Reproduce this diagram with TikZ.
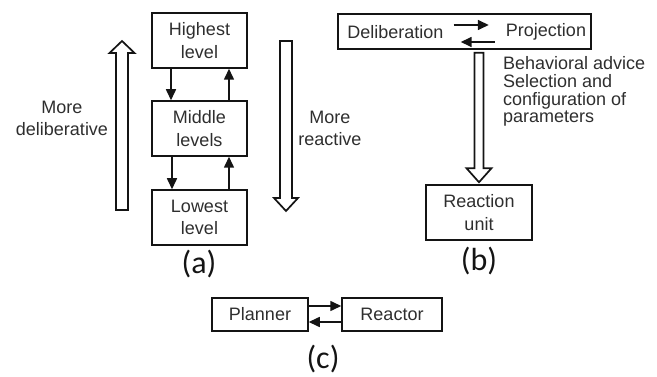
\documentclass[tikz,border=0pt]{standalone}
\usepackage{fontspec}
\setmainfont{Liberation Sans}
\newfontfamily\labfont{Carlito}
\usetikzlibrary{arrows.meta,calc}
\definecolor{txt}{HTML}{2E2E2E}
\definecolor{ln}{HTML}{141414}
\begin{document}
\begin{tikzpicture}[x=1pt,y=-1pt,
  box/.style={draw=ln, line width=1.5pt, inner sep=0pt, align=center,
    font=\fontsize{18}{22.5}\selectfont, text=txt},
  plain/.style={inner sep=0pt, align=center, font=\fontsize{18}{22}\selectfont, text=txt},
  arr/.style={draw=ln, line width=1.6pt, -{Triangle[length=11pt,width=10pt]}},
  hollow/.style={draw=ln, line width=1.7pt, fill=white, line join=miter},
  lab/.style={inner sep=0pt, font=\labfont\fontsize{32}{34}\selectfont, text=ln}]
\useasboundingbox (0,0) rectangle (657,377);
% (a)
\node[box, minimum width=95pt, minimum height=55pt] (high) at (199.5,40.5) {Highest\\level};
\node[box, minimum width=95pt, minimum height=55pt] (mid) at (199.5,128.5) {Middle\\levels};
\node[box, minimum width=95pt, minimum height=55pt] (low) at (199.5,217.5) {Lowest\\level};
\draw[arr] ($(high.south)+(-28.5,0)$) -- ($(mid.north)+(-28.5,0)$);
\draw[arr] ($(mid.north)+(29.5,0)$) -- ($(high.south)+(29.5,0)$);
\draw[arr] ($(mid.south)+(-27.5,0)$) -- ($(low.north)+(-27.5,0)$);
\draw[arr] ($(low.north)+(29.5,0)$) -- ($(mid.south)+(29.5,0)$);
\draw[hollow] (116,210) -- (116,53) -- (109.5,53) -- (122,41) -- (134.5,53) -- (128,53) -- (128,210) -- cycle;
\draw[hollow] (280,41) -- (292,41) -- (292,198) -- (298,198) -- (286,211) -- (274,198) -- (280,198) -- cycle;
\node[plain] (deltxt) at (62,118) {More\\deliberative};
\node[plain] (reatxt) at (330,128) {More\\reactive};
\node[lab] (la) at (199,264) {(a)};
% (b)
\node[box, minimum width=253pt, minimum height=35pt] (delib) at (464.5,31.5) {};
\node[plain] (dl) at (395.5,32) {Deliberation};
\node[plain] (pj) at (546,32) {Projection};
\draw[arr] ($(dl.east)+(10,-7)$) -- ($(pj.west)+(-17,-7)$);
\draw[arr] ($(pj.west)+(-11,10)$) -- ($(dl.east)+(17,10)$);
\node[box, minimum width=106pt, minimum height=55pt] (react) at (479,212.5) {Reaction\\unit};
\draw[hollow] let \p1=(react.north), \p2=(delib.south) in
  (\x1-4.5pt,\y2-3pt) -- (\x1+4.5pt,\y2-3pt) -- (\x1+4.5pt,\y1+16pt) -- (\x1+12.5pt,\y1+16pt)
  -- (\x1,\y1+2pt) -- (\x1-12.5pt,\y1+16pt) -- (\x1-4.5pt,\y1+16pt) -- cycle;
\node[plain, anchor=west, align=left, font=\fontsize{18}{17.7}\selectfont] (adv) at (503,91.5)
  {Behavioral advice\\Selection and\\configuration of\\parameters};
\node[lab] (lb) at (479,261.5) {(b)};
% (c)
\node[box, minimum width=96pt, minimum height=33pt] (plan) at (260,314.5) {Planner};
\node[box, minimum width=100pt, minimum height=33pt] (reac) at (392,314.5) {Reactor};
\draw[arr] ($(plan.east)+(0,-8.5)$) -- ($(reac.west)+(0,-8.5)$);
\draw[arr] ($(reac.west)+(0,7.5)$) -- ($(plan.east)+(0,7.5)$);
\node[lab] (lc) at (323,359) {(c)};
\end{tikzpicture}
\end{document}
